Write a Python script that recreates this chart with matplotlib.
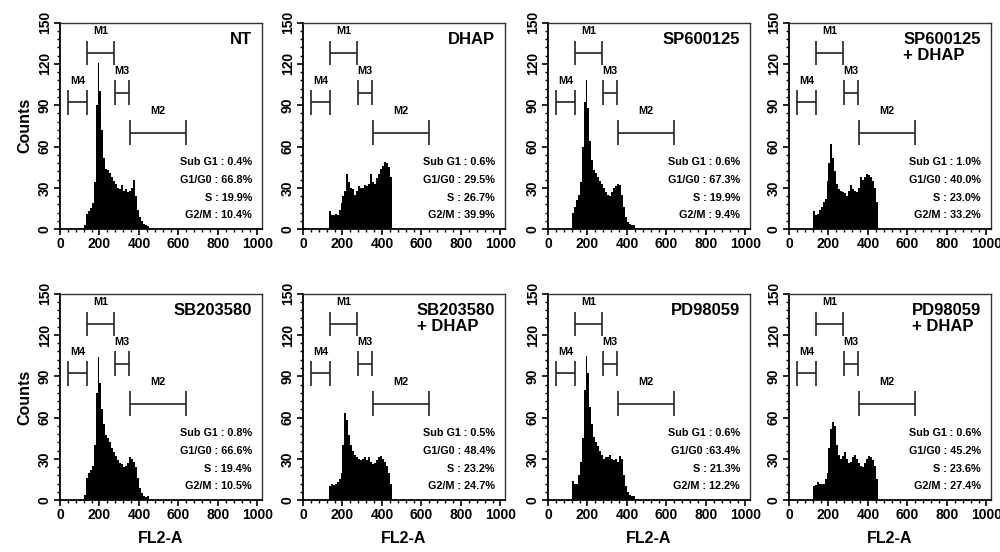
import numpy as np
import matplotlib
matplotlib.use('Agg')
import matplotlib.pyplot as plt
from matplotlib.ticker import MultipleLocator

plt.rcParams['font.family'] = ['Liberation Sans', 'DejaVu Sans']
plt.rcParams['font.weight'] = 'bold'

# histogram counts, 10-channel bins starting at channel 120
bin_start = 120
bin_width = 10

nt = [3, 11, 13, 15, 19, 34, 90, 121, 100, 72, 52, 44, 43, 41, 38, 35, 33, 30,
      29, 32, 28, 29, 27, 28, 30, 36, 24, 14, 9, 6, 4, 3, 2, 1, 0]
dhap = [0, 13, 10, 10, 11, 10, 14, 19, 24, 28, 40, 34, 30, 29, 25, 28, 31, 30,
        30, 32, 31, 33, 40, 34, 33, 37, 40, 44, 46, 49, 48, 45, 38, 0, 0]
sp = [12, 16, 21, 25, 34, 60, 92, 108, 88, 64, 50, 43, 41, 38, 35, 33, 30, 27,
      25, 24, 27, 30, 31, 33, 32, 25, 16, 9, 5, 4, 3, 3, 1, 0, 0]
sp_dhap = [13, 10, 11, 14, 16, 20, 22, 35, 48, 62, 52, 42, 33, 29, 28, 27, 26,
           24, 28, 32, 29, 28, 27, 30, 38, 36, 38, 40, 39, 38, 35, 30, 20, 0, 0]
sb = [4, 16, 20, 22, 25, 40, 78, 104, 85, 66, 55, 47, 45, 42, 38, 35, 32, 29,
      27, 26, 24, 25, 27, 31, 30, 28, 24, 16, 9, 5, 3, 2, 3, 1, 0]
sb_dhap = [0, 10, 12, 11, 12, 13, 15, 20, 40, 63, 58, 47, 40, 36, 33, 31, 30,
           29, 30, 31, 29, 31, 28, 26, 27, 29, 31, 32, 30, 28, 25, 20, 12, 0, 0]
pd = [14, 12, 12, 18, 28, 45, 80, 105, 92, 68, 55, 46, 42, 39, 36, 33, 30, 31,
      31, 33, 30, 29, 30, 28, 32, 30, 18, 10, 6, 4, 3, 3, 1, 0, 0]
pd_dhap = [10, 11, 13, 12, 12, 12, 15, 20, 38, 52, 57, 54, 40, 33, 30, 32, 35,
           30, 27, 28, 31, 33, 30, 27, 25, 24, 27, 30, 32, 31, 29, 25, 15, 0, 0]

titles = ['NT', 'DHAP', 'SP600125', 'SP600125\n+ DHAP',
          'SB203580', 'SB203580\n+ DHAP', 'PD98059', 'PD98059\n+ DHAP']
series = [nt, dhap, sp, sp_dhap, sb, sb_dhap, pd, pd_dhap]

stats = [
    ['Sub G1 : 0.4%', 'G1/G0 : 66.8%', 'S : 19.9%', 'G2/M : 10.4%'],
    ['Sub G1 : 0.6%', 'G1/G0 : 29.5%', 'S : 26.7%', 'G2/M : 39.9%'],
    ['Sub G1 : 0.6%', 'G1/G0 : 67.3%', 'S : 19.9%', 'G2/M : 9.4%'],
    ['Sub G1 : 1.0%', 'G1/G0 : 40.0%', 'S : 23.0%', 'G2/M : 33.2%'],
    ['Sub G1 : 0.8%', 'G1/G0 : 66.6%', 'S : 19.4%', 'G2/M : 10.5%'],
    ['Sub G1 : 0.5%', 'G1/G0 : 48.4%', 'S : 23.2%', 'G2/M : 24.7%'],
    ['Sub G1 : 0.6%', 'G1/G0 :63.4%', 'S : 21.3%', 'G2/M : 12.2%'],
    ['Sub G1 : 0.6%', 'G1/G0 : 45.2%', 'S : 23.6%', 'G2/M : 27.4%'],
]

# gate markers
gate_names = ['M1', 'M2', 'M3', 'M4']
gate_lo = [138, 354, 278, 42]
gate_hi = [273, 640, 350, 138]
gate_y = [128, 70, 99, 92]

col_left = [0.060, 0.303, 0.548, 0.789]
row_bottom = [0.585, 0.094]
ax_w = 0.202
ax_h = 0.374

fig = plt.figure(figsize=(10, 5.52), dpi=100)

for i in range(8):
    r, c = divmod(i, 4)
    ax = fig.add_axes([col_left[c], row_bottom[r], ax_w, ax_h])
    vals = np.array(series[i])
    edges = bin_start + bin_width * np.arange(len(vals) + 1)
    ax.stairs(vals, edges, fill=True, color='black', linewidth=0)

    for name, lo, hi, y in zip(gate_names, gate_lo, gate_hi, gate_y):
        ax.hlines(y, lo, hi, color='#222222', linewidth=1.2)
        ax.vlines([lo, hi], y - 9, y + 9, color='#222222', linewidth=1.2)
        ax.text((lo + hi) / 2, y + 12, name, ha='center', va='bottom',
                fontsize=7.8, fontweight='bold')

    ax.text(0.95, 0.955, titles[i], transform=ax.transAxes, ha='right',
            va='top', multialignment='left', fontsize=12, fontweight='bold',
            linespacing=1.05)

    ys = [0.325, 0.238, 0.150, 0.066]
    for s, yy in zip(stats[i], ys):
        ax.text(0.95, yy, s, transform=ax.transAxes, ha='right',
                va='center', fontsize=7.8, fontweight='bold')

    ax.set_xlim(0, 1023)
    ax.set_ylim(0, 150)
    ax.xaxis.set_major_locator(MultipleLocator(200))
    ax.xaxis.set_minor_locator(MultipleLocator(40))
    ax.yaxis.set_major_locator(MultipleLocator(30))
    ax.yaxis.set_minor_locator(MultipleLocator(6))
    ax.tick_params(which='major', length=4, width=1.2, labelsize=10, pad=2)
    ax.tick_params(which='minor', length=2, width=1.0)
    for lab in ax.get_yticklabels():
        lab.set_rotation(90)
        lab.set_va('center')
        lab.set_fontweight('bold')
    for lab in ax.get_xticklabels():
        lab.set_fontweight('bold')
    for sp_name in ['left', 'bottom']:
        ax.spines[sp_name].set_linewidth(1.3)
    for sp_name in ['top', 'right']:
        ax.spines[sp_name].set_linewidth(1.0)
        ax.spines[sp_name].set_color('#333333')

    if c == 0:
        ax.set_ylabel('Counts', fontsize=11.5, fontweight='bold', labelpad=4)
    if r == 1:
        ax.set_xlabel('FL2-A', fontsize=11.5, fontweight='bold', labelpad=6)

fig.savefig('out.png', dpi=100)
